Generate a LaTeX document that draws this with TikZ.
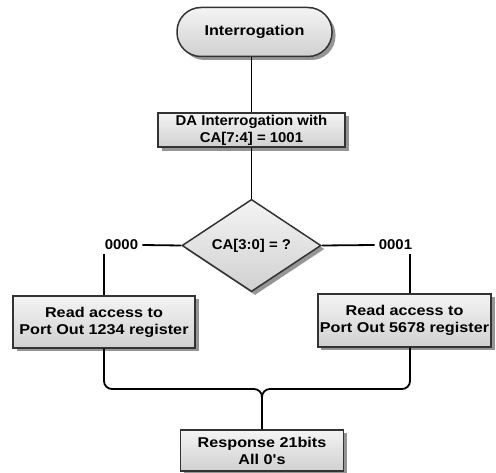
\documentclass[tikz,border=0pt]{standalone}
\usepackage{fontspec}
\setmainfont{Liberation Sans}
\newfontfamily\widefont{Liberation Sans}[FakeStretch=1.14]
\newfontfamily\midfont{Liberation Sans}[FakeStretch=1.05]
\usetikzlibrary{shapes.geometric,shadows}
\definecolor{edgegray}{HTML}{333333}
\definecolor{filltop}{HTML}{F4F4F4}
\definecolor{fillbot}{HTML}{D0D0D0}
\definecolor{shadowgray}{HTML}{959595}
\begin{document}
\begin{tikzpicture}[x=1pt,y=-1pt,
  shape base/.style={draw=edgegray, line width=1.5pt, top color=filltop, bottom color=fillbot,
    drop shadow={shadow xshift=3.5pt, shadow yshift=-3.5pt, fill=shadowgray, opacity=1},
    align=center, inner sep=2pt},
  stepbox/.style={shape base, rectangle,
    font=\widefont\bfseries\fontsize{14.2}{17}\selectfont},
  termbox/.style={shape base, rectangle, rounded corners=24pt,
    font=\widefont\bfseries\fontsize{14.2}{17}\selectfont},
  decbox/.style={shape base, diamond, inner sep=0pt,
    font=\midfont\bfseries\fontsize{14.2}{17}\selectfont},
  caselabel/.style={inner sep=4pt, font=\midfont\bfseries\fontsize{14.2}{17}\selectfont},
  wire/.style={line width=1.8pt, black}]
\useasboundingbox (0,0) rectangle (496,473);

% process steps
\node[termbox, minimum width=155pt, minimum height=49pt] (start) at (254.5,32) {Interrogation};
\node[stepbox, minimum width=187pt, minimum height=34pt,
      font=\midfont\bfseries\fontsize{14.2}{17}\selectfont] (da) at (251.5,130)
      {DA Interrogation with\\CA[7:4] = 1001};
\node[decbox, minimum width=139pt, minimum height=87pt] (dec) at (251.5,245.5) {CA[3:0] = ?};
\node[caselabel] (z0) at (121.5,245) {0000};
\node[caselabel] (z1) at (395.5,245) {0001};
\node[stepbox, minimum width=182pt, minimum height=52pt] (rd1) at (104,322)
      {Read access to\\Port Out 1234 register};
\node[stepbox, minimum width=171pt, minimum height=53pt] (rd2) at (404.5,320.5)
      {Read access to\\Port Out 5678 register};
\node[stepbox, minimum width=163pt, minimum height=41pt] (resp) at (262,450.5)
      {Response 21bits\\All 0's};
\coordinate (join) at (262,389);
\coordinate (rd2top) at ([xshift=5.5pt]rd2.north);
\coordinate (rd2bot) at ([xshift=5.5pt]rd2.south);

% connectors
\draw[wire] (da.north |- start.south) -- (da.north);
\draw[wire] (da.south) -- (da.south |- dec.north);
\draw[wire] (dec.west) -- (z0.east);
\draw[wire] (dec.east) -- (z1.west);
\draw[wire] (rd1.north) -- (rd1.north |- z0.south);
\draw[wire] (rd2top) -- (rd2top |- z1.south);
\draw[wire, rounded corners=8pt] (rd1.south) |- (join) -- (resp.north);
\draw[wire, rounded corners=8pt] (rd2bot) |- (join) -- (resp.north);
\end{tikzpicture}
\end{document}
